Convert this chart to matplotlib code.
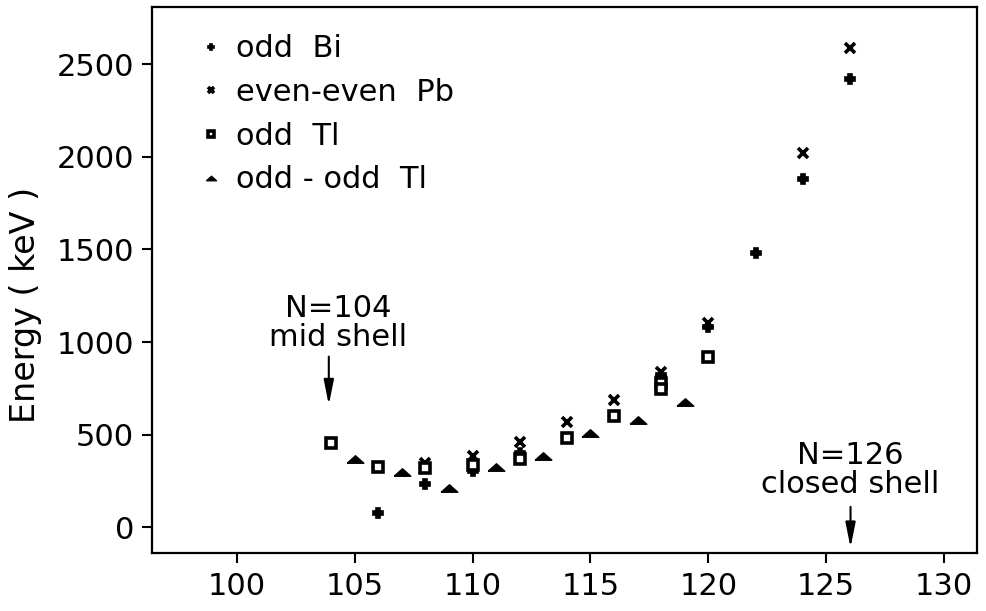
import matplotlib
matplotlib.use("Agg")
import matplotlib.pyplot as plt

plt.rcParams['font.family'] = ['DejaVu Sans']

# ---- data (neutron number N, energy keV) ----
bi_N = [106, 108, 110, 112, 118, 120, 122, 124, 126]
bi_E = [79, 232, 305, 400, 820, 1080, 1479, 1881, 2421]

pb_N = [108, 110, 112, 114, 116, 118, 120, 124, 126]
pb_E = [345, 385, 459, 567, 687, 840, 1100, 2023, 2586]

tl_N = [104, 106, 108, 110, 112, 114, 116, 118, 118, 120]
tl_E = [453, 327, 320, 336, 370, 480, 601, 780, 745, 921]

oo_N = [105, 107, 109, 111, 113, 115, 117, 119]
oo_E = [369, 297, 212, 327, 385, 511, 577, 678]

labels = ["odd  Bi", "even-even  Pb", "odd  Tl", "odd - odd  Tl"]
xticks = [100, 105, 110, 115, 120, 125, 130]
yticks = [0, 500, 1000, 1500, 2000, 2500]

FS = 22

fig = plt.figure(figsize=(9.87, 6.11), dpi=100)
ax = fig.add_axes([0.154, 0.095, 0.836, 0.8936])

tri = [(-1, -0.45), (1, -0.45), (0, 0.45), (-1, -0.45)]

h1, = ax.plot(bi_N, bi_E, linestyle='none', marker='P', ms=6.5, mew=1.2,
              color='black', mec='black', mfc='black', label=labels[0])
h2, = ax.plot(pb_N, pb_E, linestyle='none', marker='x', ms=7, mew=2.6,
              color='black', label=labels[1])
h3, = ax.plot(tl_N, tl_E, linestyle='none', marker='s', ms=7, mew=2.6,
              mec='black', mfc='white', label=labels[2])
h4, = ax.plot(oo_N, oo_E, linestyle='none', marker=tri, ms=12,
              mec='black', mfc='black', label=labels[3])

ax.set_xlim(96.4, 131.4)
ax.set_ylim(-139, 2809)
ax.set_xticks(xticks)
ax.set_yticks(yticks)
ax.tick_params(axis='both', direction='out', length=7, width=1.5,
               labelsize=FS, colors='black')
ax.tick_params(axis='x', pad=7)
ax.tick_params(axis='y', pad=6)
for s in ax.spines.values():
    s.set_linewidth(1.6)

ax.set_ylabel("Energy ( keV )", fontsize=24)
ax.yaxis.set_label_coords(-0.133, 0.455)

leg = ax.legend(handles=[h1, h2, h3, h4], loc='upper left',
                bbox_to_anchor=(0.045, 0.972), frameon=False, fontsize=FS,
                markerscale=0.6, handlelength=0.6, handletextpad=0.55,
                labelspacing=0.48, borderaxespad=0)

arrow_kw = dict(arrowstyle='-|>,head_length=1.5,head_width=0.3',
                mutation_scale=10, lw=1.5, color='black',
                shrinkA=0, shrinkB=0)

ax.text(104.3, 1100, "N=104\nmid shell", ha='center', va='center',
        fontsize=FS, linespacing=1.0)
ax.annotate("", xy=(103.9, 660), xytext=(103.9, 921), arrowprops=arrow_kw)

ax.text(126.0, 310, "N=126\nclosed shell", ha='center', va='center',
        fontsize=FS, linespacing=1.0)
ax.annotate("", xy=(126.03, -110), xytext=(126.03, 110), arrowprops=arrow_kw)

fig.savefig("out.png", dpi=100)
